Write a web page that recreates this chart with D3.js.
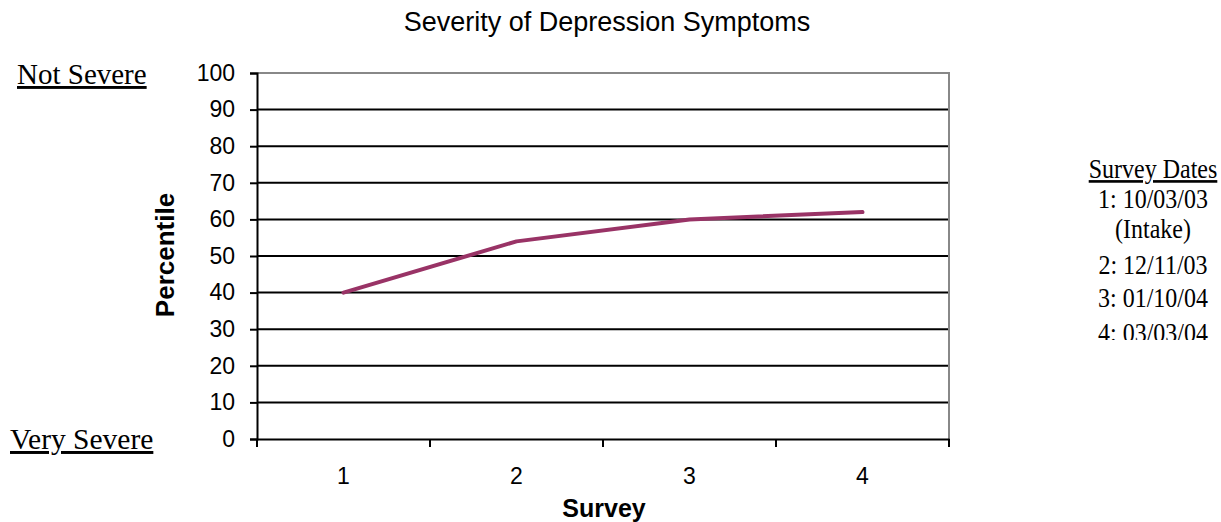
<!DOCTYPE html>
<html>
<head>
<meta charset="utf-8">
<script src="https://cdn.jsdelivr.net/npm/d3@7"></script>
<style>
  body { margin: 0; background: #fff; }
  text { fill: #000; }
</style>
</head>
<body>
<div id="chart"></div>
<script>
(function(){

// data
const surveys = ["1", "2", "3", "4"];
const percentile = [40, 54, 60, 62];
const yTicks = [0, 10, 20, 30, 40, 50, 60, 70, 80, 90, 100];
const legendLines = ["1: 10/03/03", "(Intake)", "2: 12/11/03", "3: 01/10/04", "4: 03/03/04"];

const width = 1221, height = 522;
const margin = { top: 73, right: 272, bottom: 83, left: 257 };
const w = width - margin.left - margin.right;
const h = height - margin.top - margin.bottom;
const sans = "Liberation Sans, Arial, sans-serif";
const serif = "Liberation Serif, Times New Roman, serif";

const svg = d3.select("#chart").append("svg")
    .attr("width", width)
    .attr("height", height);

const g = svg.append("g")
    .attr("transform", `translate(${margin.left},${margin.top})`);

const x = d3.scaleBand().domain(surveys).range([0, w]);
const y = d3.scaleLinear().domain([0, 100]).range([h, 0]);

// gridlines
g.selectAll(".grid")
    .data(yTicks.filter(d => d > 0 && d < 100))
    .enter().append("line")
    .attr("x1", 0).attr("x2", w)
    .attr("y1", d => y(d)).attr("y2", d => y(d))
    .attr("stroke", "#000").attr("stroke-width", 2);

// plot border (top and right) gray
g.append("path")
    .attr("d", `M0,${y(100)}H${w}V${h}`)
    .attr("fill", "none")
    .attr("stroke", "#888").attr("stroke-width", 2);

// y axis
const yAxis = g.append("g")
    .call(d3.axisLeft(y).tickValues(yTicks).tickSize(7).tickPadding(15));
yAxis.select(".domain").attr("stroke", "#000").attr("stroke-width", 2);
yAxis.selectAll(".tick line").attr("stroke", "#000").attr("stroke-width", 2);
yAxis.selectAll("text")
    .attr("font-family", sans)
    .attr("font-size", 23);

// x axis with ticks at band edges
const xAxis = g.append("g")
    .attr("transform", `translate(0,${h})`)
    .call(d3.axisBottom(x).tickSize(0).tickPadding(29));
xAxis.select(".domain").attr("stroke", "#000").attr("stroke-width", 2);
xAxis.selectAll("text")
    .attr("font-family", sans)
    .attr("font-size", 23);
const edges = surveys.map(d => x(d)).concat([w]);
xAxis.selectAll(".edge")
    .data(edges)
    .enter().append("line")
    .attr("x1", d => d).attr("x2", d => d)
    .attr("y1", 0).attr("y2", 8)
    .attr("stroke", "#000").attr("stroke-width", 2);

// line
const line = d3.line()
    .x((d, i) => x(surveys[i]) + x.bandwidth() / 2)
    .y(d => y(d));
g.append("path")
    .datum(percentile)
    .attr("d", line)
    .attr("fill", "none")
    .attr("stroke", "#993366")
    .attr("stroke-width", 4)
    .attr("stroke-linecap", "round")
    .attr("stroke-linejoin", "round");

// title and axis labels
svg.append("text")
    .attr("x", 607).attr("y", 31)
    .attr("text-anchor", "middle")
    .attr("font-family", sans)
    .attr("font-size", 27)
    .text("Severity of Depression Symptoms");

svg.append("text")
    .attr("x", 604).attr("y", 517)
    .attr("text-anchor", "middle")
    .attr("font-family", sans)
    .attr("font-size", 25).attr("font-weight", "bold")
    .text("Survey");

svg.append("text")
    .attr("transform", "translate(174,255) rotate(-90)")
    .attr("text-anchor", "middle")
    .attr("font-family", sans)
    .attr("font-size", 26).attr("font-weight", "bold")
    .text("Percentile");

// severity labels
svg.append("text")
    .attr("x", 17).attr("y", 84)
    .attr("font-family", serif).attr("font-size", 29)
    .attr("text-decoration", "underline")
    .text("Not Severe");
svg.append("text")
    .attr("x", 10).attr("y", 449)
    .attr("font-family", serif).attr("font-size", 29.5)
    .attr("text-decoration", "underline")
    .text("Very Severe");

// survey dates box (clipped at bottom as in the original)
svg.append("clipPath").attr("id", "legclip")
    .append("rect").attr("x", 1060).attr("y", 140).attr("width", 161).attr("height", 200);

const leg = svg.append("g").attr("clip-path", "url(#legclip)");
leg.append("text")
    .attr("transform", "translate(1153,178) scale(1,1.1)")
    .attr("text-anchor", "middle")
    .attr("font-family", serif).attr("font-size", 24)
    .attr("text-decoration", "underline")
    .text("Survey Dates");
const legY = [208, 238, 274, 307, 342];
leg.selectAll(".leg")
    .data(legendLines)
    .enter().append("text")
    .attr("transform", (d, i) => `translate(1153,${legY[i]}) scale(1,1.1)`)
    .attr("text-anchor", "middle")
    .attr("font-family", serif).attr("font-size", 24)
    .text(d => d);

})();
</script>
</body>
</html>
